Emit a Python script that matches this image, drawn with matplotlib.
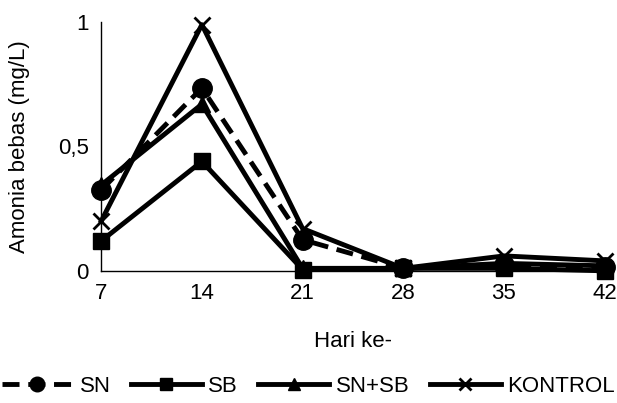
import numpy as np
import matplotlib.pyplot as plt

plt.rcParams['font.family'] = ['Liberation Sans', 'DejaVu Sans']

# data
hari = ['7', '14', '21', '28', '35', '42']
sn = [0.325, 0.735, 0.125, 0.01, 0.025, 0.015]
sb = [0.12, 0.44, 0.005, 0.01, 0.01, 0.0]
sn_sb = [0.345, 0.67, 0.01, 0.01, 0.03, 0.02]
kontrol = [0.20, 0.99, 0.17, 0.01, 0.06, 0.04]

x = np.arange(len(hari))

fig = plt.figure(figsize=(6.17, 4.03), dpi=100)
ax = fig.add_axes([0.164, 0.328, 0.816, 0.617])

lw = 3.5
ax.plot(x, sn, color='k', lw=lw, ls=(0, (3.5, 1.8)), marker='o', ms=14, label='SN')
ax.plot(x, sb, color='k', lw=lw, marker='s', ms=12, label='SB')
ax.plot(x, sn_sb, color='k', lw=lw, marker='^', ms=11, label='SN+SB')
ax.plot(x, kontrol, color='k', lw=lw, marker='x', ms=12, mew=2, label='KONTROL')

ax.set_xlim(0, 5)
ax.set_ylim(0, 1)
ax.set_xticks(x)
ax.set_xticklabels(hari)
ax.set_yticks([0, 0.5, 1])
ax.set_yticklabels(['0', '0,5', '1'])
ax.tick_params(length=0, labelsize=16, pad=9)
for s in ['top', 'right']:
    ax.spines[s].set_visible(False)
ax.spines['left'].set_linewidth(1)
ax.spines['bottom'].set_linewidth(1)
for a in ax.get_lines():
    a.set_clip_on(False)

ax.set_xlabel('Hari ke-', fontsize=16, labelpad=19)
ax.set_ylabel('Amonia bebas (mg/L)', fontsize=16, labelpad=20)

fig.legend(loc='lower center', bbox_to_anchor=(0.5, -0.035), ncol=4, frameon=False,
           fontsize=16, handlelength=3.2, handletextpad=0.3, columnspacing=0.9,
           numpoints=1, markerscale=0.75)

fig.savefig('out.png', dpi=100)
